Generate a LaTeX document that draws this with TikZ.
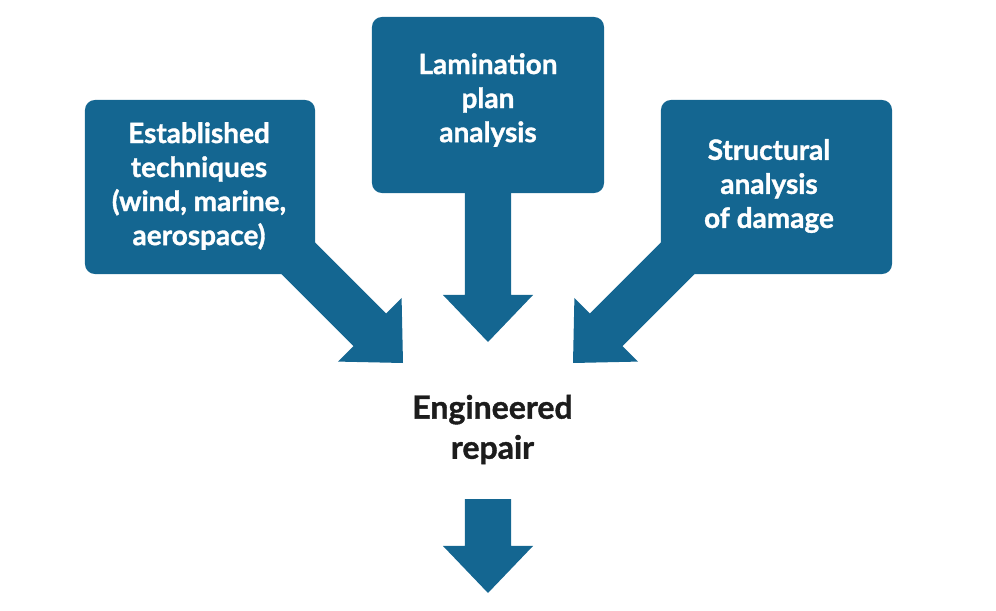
\documentclass[tikz,border=0pt]{standalone}
\usepackage{fontspec}
\setmainfont{Lato}[BoldFeatures={FakeBold=1.2}]
\usetikzlibrary{calc,backgrounds}

\definecolor{boxblue}{RGB}{20,102,145}
\definecolor{darktext}{RGB}{28,28,28}

% block arrow from #1 (foot) to #2 (tip)
\newcommand{\blockarrow}[2]{%
  \coordinate (h) at ($(#2)!1.175cm!(#1)$);
  \fill[boxblue] ($(#1)!0.575cm!90:(#2)$) -- ($(h)!0.575cm!-90:(#1)$) -- ($(h)!1.125cm!-90:(#1)$) -- (#2)
    -- ($(h)!1.125cm!90:(#1)$) -- ($(h)!0.575cm!90:(#1)$) -- ($(#1)!0.575cm!-90:(#2)$) -- cycle;
}

\begin{document}
\begin{tikzpicture}[x=0.025cm, y=-0.025cm,
  box/.style={fill=boxblue, rounded corners=0.25cm, inner sep=0pt, outer sep=0pt},
  boxtext/.style={text=white, font=\bfseries\fontsize{19.9}{24.2}\selectfont, align=center, inner sep=0pt},
  result/.style={text=darktext, font=\bfseries\fontsize{22.8}{28.5}\selectfont, align=center, inner sep=0pt}]
\useasboundingbox (0,0) rectangle (996,611);

\node[box, minimum width=5.75cm, minimum height=4.35cm] (est) at (200,187) {};
\node[box, minimum width=5.8cm, minimum height=4.4cm] (lam) at (488,105) {};
\node[box, minimum width=5.775cm, minimum height=4.35cm] (str) at (776.5,187) {};

\node[boxtext] (esttext) at (199,186) {Established\\techniques\\(wind, marine,\\aerospace)};
\node[boxtext] (lamtext) at (488,100) {Lamination\\plan\\analysis};
\node[boxtext] (strtext) at (769,186) {Structural\\analysis\\of damage};

\node[result] (repair) at (492.5,429.5) {Engineered\\repair};

\coordinate (estfoot) at (250,210);
\coordinate (esttip) at (403,363);
\coordinate (lamfoot) at (488,185);
\coordinate (lamtip) at (488,342);
\coordinate (strfoot) at (726,210);
\coordinate (strtip) at (573,363);
\coordinate (repfoot) at (488,499);
\coordinate (reptip) at (488,593);

\begin{scope}[on background layer]
\blockarrow{estfoot}{esttip}
\blockarrow{lamfoot}{lamtip}
\blockarrow{strfoot}{strtip}
\blockarrow{repfoot}{reptip}
\end{scope}
\end{tikzpicture}
\end{document}
